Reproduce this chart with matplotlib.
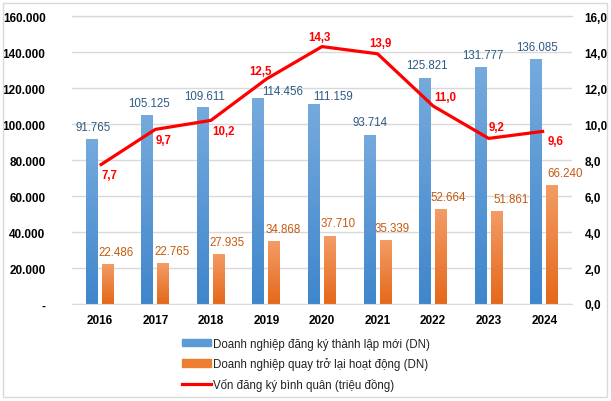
import matplotlib
matplotlib.use("Agg")
import matplotlib.pyplot as plt
import numpy as np
from matplotlib.colors import LinearSegmentedColormap
from matplotlib.patches import Rectangle
from matplotlib.lines import Line2D

plt.rcParams['font.family'] = ['Liberation Sans', 'DejaVu Sans']

years = ['2016', '2017', '2018', '2019', '2020', '2021', '2022', '2023', '2024']
new_dn = [91765, 105125, 109611, 114456, 111159, 93714, 125821, 131777, 136085]
back_dn = [22486, 22765, 27935, 34868, 37710, 35339, 52664, 51861, 66240]
capital = [7.7, 9.7, 10.2, 12.5, 14.3, 13.9, 11.0, 9.2, 9.6]
left_ticks = [0, 20000, 40000, 60000, 80000, 100000, 120000, 140000, 160000]
left_tick_labels = ['-', '20.000', '40.000', '60.000', '80.000', '100.000', '120.000', '140.000', '160.000']
right_ticks = [0, 2, 4, 6, 8, 10, 12, 14, 16]
right_tick_labels = ['0,0', '2,0', '4,0', '6,0', '8,0', '10,0', '12,0', '14,0', '16,0']
legend_labels = ['Doanh nghiệp đăng ký thành lập mới (DN)',
                 'Doanh nghiệp quay trở lại hoạt động (DN)',
                 'Vốn đăng ký bình quân (triệu đồng)']
# label offsets in pixels (label centre relative to anchor)
cap_offsets = [(10, -10), (8, -11), (13, -11), (-6, 8), (-3, 10), (3, 11), (12, 9), (8, 11), (11, -10)]
blue_offsets = [(1.5, 12), (1.5, 12), (2, 11), (24, 7), (19, 8), (1, 13), (2, 13), (2, 12), (1, 12)]
orange_offsets = [(8, 12), (9, 12), (8.5, 12), (8.5, 12), (8, 13), (7, 12), (7, 12), (14, 12), (13, 12)]

def fmt_dot(v):
    return f"{v:,}".replace(',', '.')

def fmt_comma(v):
    return f"{v:.1f}".replace('.', ',')

fig = plt.figure(figsize=(6.11, 4.02), dpi=100)
ax = fig.add_axes([72/611, 97/402, 500/611, 288/402])
ax2 = ax.twinx()

x = np.arange(len(years))
w = 0.216
off = 0.144

blue_cmap = LinearSegmentedColormap.from_list('b', ['#3f86cc', '#76aadd'])
orange_cmap = LinearSegmentedColormap.from_list('o', ['#e5681a', '#f39c66'])

bars1 = ax.bar(x - off, new_dn, w, color='#5b9bd5', zorder=2)
bars2 = ax.bar(x + off, back_dn, w, color='#ed7d31', zorder=2)

grad = np.linspace(0, 1, 256).reshape(-1, 1)
for bars, cmap in ((bars1, blue_cmap), (bars2, orange_cmap)):
    for b in bars:
        x0, y0 = b.get_x(), b.get_y()
        bw, bh = b.get_width(), b.get_height()
        im = ax.imshow(grad, cmap=cmap, origin='lower', aspect='auto',
                       extent=[x0, x0 + bw, y0, y0 + bh], zorder=2.1)
        im.set_clip_path(b)

ax.set_xlim(-0.5, len(years) - 0.5)
ax.set_ylim(0, 160000)
ax2.set_ylim(0, 16)

for i, v in enumerate(new_dn):
    ax.annotate(fmt_dot(v), (x[i] - off, v), xytext=blue_offsets[i], textcoords='offset pixels',
                ha='center', va='center', fontsize=8.3, color='#2e5a84', zorder=5)
for i, v in enumerate(back_dn):
    ax.annotate(fmt_dot(v), (x[i] + off, v), xytext=orange_offsets[i], textcoords='offset pixels',
                ha='center', va='center', fontsize=8.3, color='#c55a11', zorder=5)

ax2.plot(x, capital, color='#ff0000', lw=2.3, zorder=4, solid_capstyle='butt')
for i, v in enumerate(capital):
    dx, dy = cap_offsets[i]
    ax2.annotate(fmt_comma(v), (x[i], v), xytext=(dx, dy), textcoords='offset pixels',
                 ha='center', va='center', fontsize=8.3, color='#ff0000', fontweight='bold', zorder=5)

ax.set_yticks(left_ticks)
ax.set_yticklabels(left_tick_labels, fontsize=8.5, fontweight='bold')
ax2.set_yticks(right_ticks)
ax2.set_yticklabels(right_tick_labels, fontsize=8.5, fontweight='bold')
ax.set_xticks(x)
ax.set_xticklabels(years, fontsize=8.5, fontweight='bold')
ax.tick_params(axis='y', length=0, pad=19)
ax2.tick_params(axis='y', length=0, pad=9)
ax.tick_params(axis='x', length=0, pad=7)

ax.grid(axis='y', color='#d9d9d9', lw=1, zorder=0)
ax.set_axisbelow(True)
ax.axhline(160000, color='#d9d9d9', lw=1, zorder=0, clip_on=False)
for s in ['top', 'left', 'right']:
    ax.spines[s].set_visible(False)
    ax2.spines[s].set_visible(False)
ax.spines['bottom'].set_color('#d9d9d9')
ax2.spines['bottom'].set_visible(False)

handles = [Rectangle((0, 0), 1, 1, color='#5b9bd5'),
           Rectangle((0, 0), 1, 1, color='#ed7d31'),
           Line2D([0], [0], color='#ff0000', lw=2.3)]
fig.legend(handles, legend_labels, loc='upper left', bbox_to_anchor=(176/611, 1 - 333/402),
           frameon=False, fontsize=8.3, handlelength=2.5, handleheight=0.6,
           handletextpad=0.2, labelspacing=0.65, borderpad=0, labelcolor='#222222')

fig.patches.append(Rectangle((3/611, 4/402), 604/611, 394/402, transform=fig.transFigure,
                             fill=False, edgecolor='#d9d9d9', lw=1))

fig.savefig('out.png', dpi=100)
